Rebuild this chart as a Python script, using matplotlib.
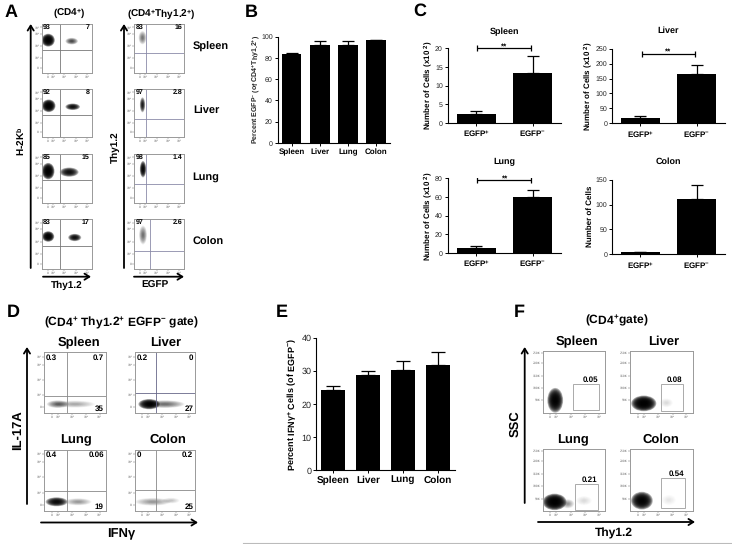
import numpy as np
import matplotlib
matplotlib.use("Agg")
import matplotlib.pyplot as plt
from matplotlib.patches import Ellipse, Rectangle

plt.rcParams['font.family'] = ['Liberation Sans', 'DejaVu Sans']
plt.rcParams['mathtext.fontset'] = 'custom'
plt.rcParams['mathtext.rm'] = 'Liberation Sans:bold'
plt.rcParams['mathtext.it'] = 'Liberation Sans:bold'
plt.rcParams['mathtext.bf'] = 'Liberation Sans:bold'
plt.rcParams['mathtext.default'] = 'rm'
plt.rcParams['text.hinting'] = 'no_hinting'
plt.rcParams['text.hinting_factor'] = 1

W, H = 732, 544
organs = ["Spleen", "Liver", "Lung", "Colon"]
egfp_groups = ["EGFP$^{+}$", "EGFP$^{-}$"]
flow_xticklabels = ["0", "10²", "10³", "10⁴", "10⁵"]
flow_yticklabels = ["0", "10²", "10³", "10⁴", "10⁵"]
ssc_yticklabels = ["50K", "100K", "150K", "200K", "250K"]

# panel B
b_values = [83.5, 92.5, 92.5, 96.5]
b_errors = [1.5, 3.0, 3.0, 0.7]

# panel C
c_spleen = [2.4, 13.5]
c_spleen_err = [0.8, 4.5]
c_liver = [19, 165]
c_liver_err = [7, 31]
c_lung = [5.5, 60]
c_lung_err = [2, 8]
c_colon = [4, 112]
c_colon_err = [0.5, 28]

# panel E
e_values = [24.3, 28.8, 30.4, 31.8]
e_errors = [1.2, 1.2, 2.6, 3.9]

# panel A percentages
a_left_ul = ["93", "92", "85", "83"]
a_left_ur = ["7", "8", "15", "17"]
a_right_ul = ["83", "97", "98", "97"]
a_right_ur = ["16", "2.8", "1.4", "2.6"]

# gates as fractions of the plot (x, y)
a_left_gates = [(.37, .46), (.37, .46), (.37, .46), (.37, .46)]
a_right_gates = [(.24, .40), (.24, .38), (.24, .38), (.32, .37)]

# flow blobs: x, y, width, height, darkness (fractions of the plot)
a_left_blobs = [
    [(.13, .67, .25, .25, 1.0), (.60, .65, .24, .13, .3)],
    [(.14, .65, .26, .25, 1.0), (.62, .63, .28, .13, .65)],
    [(.13, .65, .24, .32, 1.0), (.55, .63, .36, .18, .65)],
    [(.13, .65, .23, .20, .95), (.66, .63, .25, .14, .65)],
]
a_right_blobs = [
    [(.17, .72, .15, .26, .18)],
    [(.17, .67, .10, .30, .5)],
    [(.18, .69, .12, .32, .75)],
    [(.18, .68, .15, .36, .2)],
]
d_blobs = [
    [(.22, .15, .34, .12, .22), (.50, .15, .62, .11, .1)],
    [(.24, .15, .34, .16, .85), (.50, .15, .62, .12, .2)],
    [(.20, .15, .34, .14, .7), (.55, .15, .42, .11, .12)],
    [(.30, .15, .56, .12, .12), (.60, .17, .28, .09, .06)],
]
f_blobs = [
    [(.20, .20, .24, .38, .9)],
    [(.22, .15, .38, .24, 1.0), (.58, .16, .20, .14, .04)],
    [(.19, .15, .36, .25, 1.0), (.40, .12, .20, .14, .12), (.66, .17, .24, .14, .04)],
    [(.19, .17, .33, .27, .9), (.62, .18, .22, .16, .025)],
]

# panel D quadrant numbers
d_ul = ["0.3", "0.2", "0.4", "0"]
d_ur = ["0.7", "0", "0.06", "0.2"]
d_lr = ["35", "27", "19", "25"]
d_gates = [(.37, .28), (.36, .33), (.37, .33), (.36, .34)]

# panel F gate boxes x0, y0, x1, y1 and numbers
f_boxes = [(.48, .05, .90, .46), (.49, .02, .85, .46), (.52, .02, .88, .44), (.49, .05, .87, .53)]
f_numbers = ["0.05", "0.08", "0.21", "0.54"]

fig = plt.figure(figsize=(W / 100, H / 100), dpi=100)


def axpx(x0, y0, x1, y1):
    return fig.add_axes([x0 / W, 1 - y1 / H, (x1 - x0) / W, (y1 - y0) / H])


def blob(ax, cx, cy, w, h, dark):
    # stacked soft ellipses stand in for the dot clouds
    for s in np.linspace(1.05, .2, 12):
        ax.add_patch(Ellipse((cx, cy), w * s, h * s, color='k', lw=0, alpha=min(.9, dark * .32), zorder=2))


def bar_panel(box, values, errors, ymax, yticks, labels, tick_fs, lab_fs, xlim):
    ax = axpx(*box)
    ax.bar(range(len(values)), values, width=.69, color='k')
    ax.errorbar(range(len(values)), values, yerr=[[0] * len(values), errors], fmt='none',
                ecolor='k', elinewidth=.9, capsize=tick_fs * .85, capthick=.9)
    ax.set_xlim(*xlim)
    ax.set_ylim(0, ymax)
    ax.set_yticks(yticks)
    ax.set_xticks(range(len(values)))
    ax.set_xticklabels(labels, fontsize=lab_fs, fontweight='bold', color='k')
    ax.tick_params(axis='y', labelsize=tick_fs, length=2.5, width=.7, pad=1, labelcolor='#222222')
    ax.tick_params(axis='x', length=2.5, width=.7, pad=1.5)
    ax.spines['top'].set_visible(False)
    ax.spines['right'].set_visible(False)
    ax.spines['left'].set_linewidth(.8)
    ax.spines['bottom'].set_linewidth(.8)
    ax.patch.set_alpha(0)
    return ax


def flow_panel(box, blobs, gate=None, gate_color='#777777', yticks=(.1, .3, .55, .8, .93), ylabels=flow_yticklabels):
    ax = axpx(*box)
    ax.set_xlim(0, 1)
    ax.set_ylim(0, 1)
    for b in blobs:
        blob(ax, *b)
    if gate is not None:
        ax.axvline(gate[0], color=gate_color, lw=.6)
        ax.axhline(gate[1], color=gate_color, lw=.6)
    ax.set_xticks([.12, .22, .45, .68, .9])
    ax.set_xticklabels(flow_xticklabels, fontsize=2.2, color='#666666', family='DejaVu Sans')
    ax.set_yticks(list(yticks))
    ax.set_yticklabels(ylabels, fontsize=2.2, color='#666666', family='DejaVu Sans')
    ax.tick_params(length=1.2, width=.35, color='#777777', pad=.6)
    for s in ax.spines.values():
        s.set_color('#999999')
        s.set_linewidth(.7)
    return ax


# panel A
a_rows = [(24, 73), (89, 137), (154, 203), (219, 269)]
for i, (y0, y1) in enumerate(a_rows):
    ax = flow_panel((41.7, y0, 91.7, y1), a_left_blobs[i], a_left_gates[i])
    ax.text(.03, .93, a_left_ul[i], fontsize=5.2, fontweight='bold', va='center', transform=ax.transAxes)
    ax.text(.96, .93, a_left_ur[i], fontsize=5.2, fontweight='bold', va='center', ha='right', transform=ax.transAxes)
    ax = flow_panel((134, y0, 184, y1), a_right_blobs[i], a_right_gates[i], '#8a8aa8')
    ax.text(.03, .93, a_right_ul[i], fontsize=5.2, fontweight='bold', va='center', transform=ax.transAxes)
    ax.text(.96, .93, a_right_ur[i], fontsize=5.2, fontweight='bold', va='center', ha='right', transform=ax.transAxes)

# panel B
bar_panel((277.7, 36.7, 390, 143), b_values, b_errors, 100, [0, 20, 40, 60, 80, 100], organs,
          5.4, 5.9, (-.5, 3.49))

# panel C
c_xlim = (-.506, 1.506)
ax = bar_panel((447.7, 48.3, 561, 123), c_spleen, c_spleen_err, 20, [0, 5, 10, 15, 20], egfp_groups, 5.2, 6, c_xlim)
ax.errorbar([.5], [20], xerr=[.48], fmt='none', ecolor='k', elinewidth=.9, capsize=2, capthick=.9, clip_on=False)
ax = bar_panel((612, 48.7, 725, 123.3), c_liver, c_liver_err, 250, [0, 50, 100, 150, 200, 250], egfp_groups, 5.2, 6, c_xlim)
ax.errorbar([.5], [233], xerr=[.48], fmt='none', ecolor='k', elinewidth=.9, capsize=2, capthick=.9)
ax = bar_panel((447.7, 178.3, 561, 253), c_lung, c_lung_err, 80, [0, 20, 40, 60, 80], egfp_groups, 5.2, 6, c_xlim)
ax.errorbar([.5], [78], xerr=[.48], fmt='none', ecolor='k', elinewidth=.9, capsize=2, capthick=.9)
ax = bar_panel((612, 179.7, 725, 254.3), c_colon, c_colon_err, 150, [0, 50, 100, 150], egfp_groups, 5.2, 6, c_xlim)

# panel D
d_boxes = [(44.3, 352.3, 105.7, 413.3), (134.7, 352.3, 195, 413.3), (44.3, 449.7, 105.7, 511), (134.7, 449.7, 195, 511)]
for i, box in enumerate(d_boxes):
    color = '#666688' if i == 1 else '#888888'
    ax = flow_panel(box, d_blobs[i], d_gates[i], color)
    ax.text(.03, .91, d_ul[i], fontsize=5.6, fontweight='bold', va='center', transform=ax.transAxes)
    ax.text(.97, .91, d_ur[i], fontsize=5.6, fontweight='bold', va='center', ha='right', transform=ax.transAxes)
    ax.text(.97, .07, d_lr[i], fontsize=5.6, fontweight='bold', va='center', ha='right', transform=ax.transAxes)

# panel E
bar_panel((316.3, 338, 455, 470.3), e_values, e_errors, 40, [0, 10, 20, 30, 40], organs, 6.2, 7.2, (-.48, 3.49))

# panel F
f_axes = [(542.7, 350.7, 605.3, 412.7), (630, 350.7, 692.7, 412.7), (542.7, 448.7, 605.3, 511.3), (630, 448.7, 692.7, 511.3)]
for i, box in enumerate(f_axes):
    ax = flow_panel(box, f_blobs[i], yticks=(.2, .4, .6, .8, .97), ylabels=ssc_yticklabels)
    x0, y0, x1, y1 = f_boxes[i]
    ax.add_patch(Rectangle((x0, y0), x1 - x0, y1 - y0, fill=False, ec='#aaaaaa', lw=.7, zorder=3))
    ax.text(x1 - .01, y1 + .01, f_numbers[i], fontsize=5.6, fontweight='bold', ha='right', va='bottom')

# overlay in pixel coordinates for the labels and arrows
ov = fig.add_axes([0, 0, 1, 1], zorder=10)
ov.set_xlim(0, W)
ov.set_ylim(H, 0)
ov.axis('off')


def arrow(x0, y0, x1, y1):
    ov.annotate("", xy=(x1, y1), xytext=(x0, y0),
                arrowprops=dict(arrowstyle='->,head_width=.22,head_length=.35', color='k', lw=1.3, shrinkA=0, shrinkB=0))


def label(x, y, s, fs=8, rot=0, color='k'):
    ov.text(x, y, s, fontsize=fs, fontweight='bold', rotation=rot, ha='center', va='center', color=color)


for s, x, y in [("A", 11, 12), ("B", 251, 12), ("C", 420, 11), ("D", 13, 312), ("E", 282, 312), ("F", 519, 312)]:
    label(x, y, s, 13)

# A labels
arrow(30.7, 268, 30.7, 24)
arrow(43, 276.7, 91, 276.7)
arrow(124, 268, 124, 24)
arrow(134, 276.7, 184, 276.7)
label(21, 141, "H-2K$^{b}$", 7.2, 90)
label(66.7, 285.5, "Thy1.2", 7)
label(115, 146.7, "Thy1.2", 7, 90)
label(155, 285.5, "EGFP", 7)
label(69, 13.5, "(CD4$^{+}$)", 7)
label(161, 14, "(CD4$^{+}$Thy1.2$^{+}$)", 7.1)
label(211, 47, "Spleen", 8)
label(206, 111, "Liver", 8)
label(206, 177, "Lung", 8)
label(208, 242.5, "Colon", 8)

# B and C labels
label(256, 89, "Percent EGFP$^{-}$ (of CD4$^{+}$Thy1.2$^{+}$)", 5.2, 90, '#222222')
label(504.5, 32, "Spleen", 6.8)
label(668.5, 31, "Liver", 6.8)
label(504.5, 162, "Lung", 6.8)
label(668.5, 161.5, "Colon", 6.8)
label(428, 85, "Number of Cells (x10 $^{2}$)", 5.7, 90)
label(588.5, 86, "Number of Cells (x10 $^{2}$)", 5.7, 90)
label(428, 216, "Number of Cells (x10 $^{2}$)", 5.7, 90)
label(590, 216, "Number of Cells", 5.7, 90)
label(504, 46, "**", 6)
label(668, 51, "**", 6)
label(505, 178, "**", 6)

# D labels
label(121, 322, "(CD4$^{+}$ Thy1.2$^{+}$ EGFP$^{-}$ gate)", 8.3)
label(79, 342.5, "Spleen", 9.5)
label(166, 342.5, "Liver", 9.5)
label(76, 440, "Lung", 9.5)
label(168, 440, "Colon", 9.5)
arrow(27, 504, 27, 347)
arrow(41, 522.5, 198, 522.5)
label(18, 430, "IL-17A", 9.5, 90)
label(121, 534, "IFNγ", 9)

# E labels
label(292, 405, "Percent IFNγ$^{+}$ Cells (of EGFP$^{-}$)", 6.7, 90)

# F labels
label(617, 320, "(CD4$^{+}$gate)", 8.5)
label(577, 342, "Spleen", 9.5)
label(664, 342, "Liver", 9.5)
label(573, 440, "Lung", 9.5)
label(661, 440, "Colon", 9.5)
arrow(524.7, 503, 524.7, 347)
arrow(538, 522, 695, 522)
label(515, 424, "SSC", 9, 90)
label(614, 533.5, "Thy1.2", 8.5)

# grey rule along the bottom edge
ov.plot([243, 732], [543, 543], color='#bbbbbb', lw=.8)

fig.savefig("out.png", dpi=100)
